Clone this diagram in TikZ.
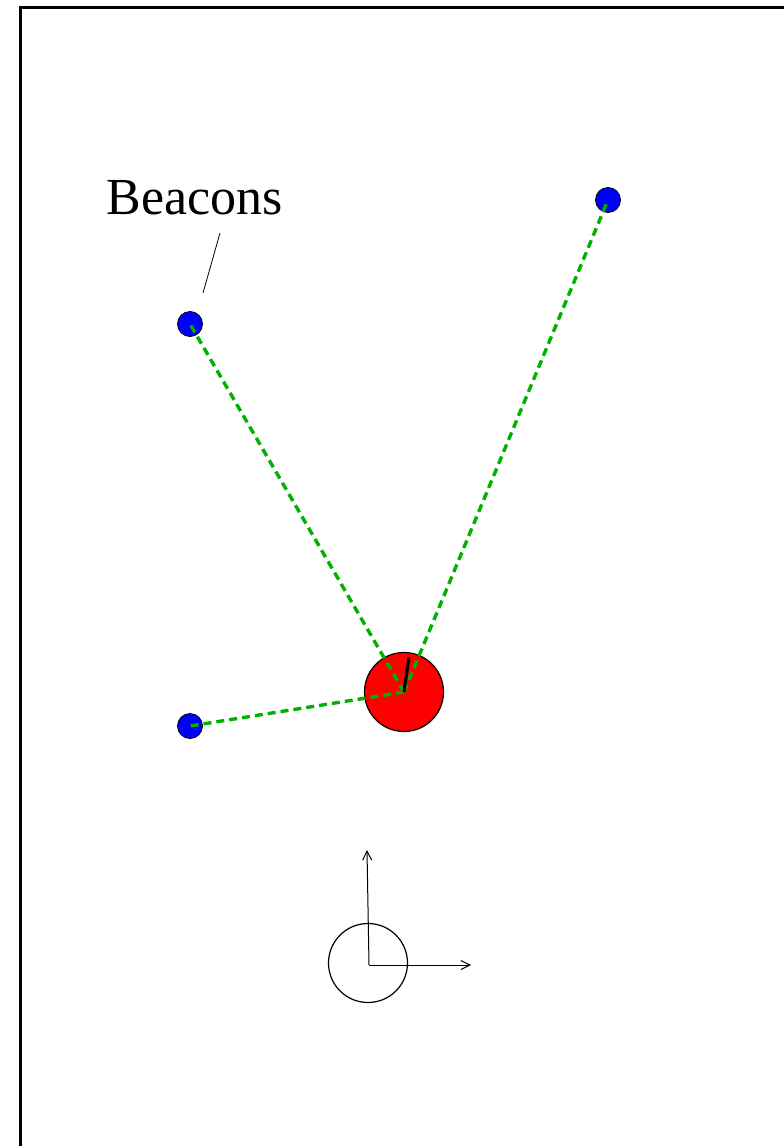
\documentclass[tikz,border=0pt]{standalone}
\usepackage{fontspec}
\setmainfont{Liberation Serif}
\usetikzlibrary{arrows.meta}

\begin{document}
\begin{tikzpicture}[x=1pt, y=-1pt,
  beacon/.style={circle, draw, fill=blue, line width=0.8pt, minimum size=25pt, inner sep=0pt},
  robot/.style={circle, draw, fill=red, line width=1.2pt, minimum size=79pt, inner sep=0pt},
  rangeline/.style={draw=green!70!black, line width=3.4pt, dash pattern=on 8pt off 5pt},
  axis/.style={draw, line width=1pt, -{Straight Barb[length=9pt, width=9pt]}}
]
  \clip (0,0) rectangle (784,1146);
  \useasboundingbox (0,0) rectangle (784,1146);
  % frame
  \draw[line width=3pt] (20,1200) -- (20,7) -- (850,7);
  % beacons and robot
  \node[beacon] (b1) at (190,324) {};
  \node[beacon] (b2) at (608,200) {};
  \node[beacon] (b3) at (190,726) {};
  \node[robot] (rob) at (404,692) {};
  \coordinate (head) at (409,657);
  \draw[rangeline] (rob.center) -- (b1.center);
  \draw[rangeline] (rob.center) -- (b2.center);
  \draw[rangeline] (rob.center) -- (b3.center);
  \draw[line width=3pt] (rob.center) -- (head);
  % label
  \node[font=\fontsize{52}{60}\selectfont, anchor=base] (lbl) at (195,214) {Beacons};
  \coordinate (p1) at (220,233);
  \coordinate (p2) at (203,293);
  \draw[line width=0.8pt] (p1) -- (p2);
  % reference frame
  \node[circle, draw, line width=1.2pt, minimum size=79pt, inner sep=0pt] (orig) at (368,963) {};
  \coordinate (ox) at (369,965);
  \coordinate (xend) at (471,965);
  \coordinate (yend) at (367,850);
  \draw[axis] (ox) -- (xend);
  \draw[axis] (ox) -- (yend);
\end{tikzpicture}
\end{document}
